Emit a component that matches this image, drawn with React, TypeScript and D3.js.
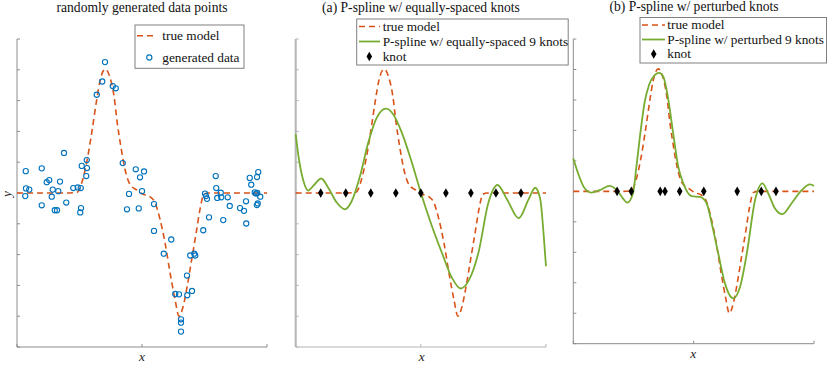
import React from "react";
import * as d3 from "d3";

// ---------- data ----------
const dataX = [0.035, 0.033, 0.036, 0.049, 0.099, 0.099, 0.119, 0.129, 0.139, 0.143, 0.151, 0.160, 0.165, 0.172, 0.188, 0.197, 0.225, 0.243, 0.255, 0.253, 0.256, 0.259, 0.277, 0.280, 0.279, 0.319, 0.341, 0.352, 0.383, 0.395, 0.423, 0.440, 0.448, 0.475, 0.487, 0.492, 0.500, 0.508, 0.548, 0.548, 0.587, 0.617, 0.633, 0.648, 0.656, 0.656, 0.656, 0.680, 0.681, 0.693, 0.700, 0.709, 0.713, 0.745, 0.752, 0.756, 0.760, 0.768, 0.795, 0.797, 0.801, 0.815, 0.817, 0.825, 0.843, 0.851, 0.892, 0.908, 0.916, 0.917, 0.931, 0.937, 0.951, 0.956, 0.960, 0.961, 0.965, 0.959, 0.963, 0.973];
const dataY = [0.71, -0.10, 0.15, 0.11, 0.80, -0.40, 0.35, 0.42, -0.12, 0.11, -0.56, -0.56, 0.06, 0.37, 1.30, -0.31, 0.16, 0.18, 0.16, -0.63, -0.49, 0.88, 0.55, 0.81, 1.07, 3.19, 3.62, 4.25, 3.47, 3.40, 0.97, -0.53, -0.03, 0.77, -0.50, 0.51, 0.06, 0.70, -0.36, -1.23, -1.97, -1.51, -3.28, -3.29, -4.10, -4.21, -4.50, -2.68, -3.32, -2.03, -3.18, -1.97, -2.03, -1.21, -0.02, -0.10, -0.19, -0.79, 0.55, 0.16, -0.16, 0.01, -0.14, -0.88, -0.14, -0.42, -0.49, -0.58, -0.27, -0.99, 0.49, 0.27, 0.02, -0.02, 0.52, 0.00, 0.68, -0.39, -0.34, -0.12];

const trueX = [0, 0.1, 0.2, 0.24, 0.263, 0.281, 0.299, 0.319, 0.332, 0.353, 0.372, 0.388, 0.401, 0.415, 0.432, 0.452, 0.479, 0.505, 0.532, 0.552, 0.572, 0.592, 0.612, 0.632, 0.648, 0.665, 0.681, 0.699, 0.719, 0.732, 0.748, 0.765, 0.85, 1];
const trueY = [0, 0, 0, 0.02, 0.44, 1.09, 1.96, 3.04, 3.64, 4.02, 3.75, 3.15, 2.28, 1.53, 0.77, 0.28, 0.10, -0.04, -0.12, -0.31, -0.85, -1.61, -2.58, -3.45, -4.0, -3.67, -3.02, -2.15, -1.18, -0.53, -0.04, 0, 0, 0];

const fitAX = [0, 0.011, 0.031, 0.050, 0.070, 0.102, 0.130, 0.164, 0.197, 0.224, 0.257, 0.290, 0.324, 0.361, 0.390, 0.424, 0.464, 0.504, 0.544, 0.584, 0.624, 0.659, 0.690, 0.730, 0.770, 0.806, 0.844, 0.891, 0.931, 0.957, 0.977, 0.990, 1.0];
const fitAY = [1.91, 1.20, 0.39, 0.08, 0.23, 0.47, 0.17, -0.31, -0.53, -0.26, 0.55, 1.64, 2.45, 2.74, 2.55, 1.96, 0.99, -0.10, -1.07, -1.94, -2.75, -3.10, -2.86, -1.94, -0.31, 0.26, -0.20, -0.82, -0.20, 0.17, -0.20, -1.29, -2.38];

const fitBX = [0, 0.020, 0.047, 0.075, 0.110, 0.151, 0.186, 0.206, 0.224, 0.248, 0.262, 0.280, 0.297, 0.315, 0.339, 0.356, 0.374, 0.395, 0.415, 0.436, 0.457, 0.492, 0.526, 0.554, 0.575, 0.602, 0.630, 0.664, 0.693, 0.721, 0.755, 0.786, 0.810, 0.838, 0.869, 0.907, 0.949, 0.983, 1.0];
const fitBY = [1.08, 0.59, 0.10, -0.04, 0.04, 0.18, -0.01, -0.23, -0.37, -0.07, 0.80, 2.00, 2.95, 3.50, 3.82, 3.89, 3.76, 3.00, 1.90, 0.81, 0.26, -0.16, -0.18, -0.39, -1.05, -2.03, -3.02, -3.51, -3.13, -2.03, -0.29, 0.26, -0.07, -0.56, -0.75, -0.39, 0.04, 0.23, 0.18];

const knotsA = [0.1, 0.2, 0.3, 0.4, 0.5, 0.6, 0.7, 0.8, 0.9];
const knotsB = [0.182, 0.241, 0.361, 0.381, 0.442, 0.542, 0.681, 0.781, 0.842];

const yTicks = [-5, -4, -3, -2, -1, 0, 1, 2, 3, 4, 5];
const xTicks = [0, 0.5, 1];
const titles = ["randomly generated data points", "(a) P-spline w/ equally-spaced knots", "(b) P-spline w/ perturbed knots"];
const legendTrue = "true model";
const legendData = "generated data";
const legendFitA = "P-spline w/ equally-spaced 9 knots";
const legendFitB = "P-spline w/ perturbed 9 knots";
const legendKnot = "knot";

// ---------- styles ----------
const ORANGE = "#D95319";
const BLUE = "#0072BD";
const GREEN = "#77AC30";
const FONT = "'Liberation Serif', 'Times New Roman', serif";
const FS = 13.3;
const FS_TITLE = 13.6;
const DASH = "6,4";

type Geom = { L: number; R: number; T: number; B: number; axisColor: string; leftW: number };

const geoms: Geom[] = [
  { L: 17, R: 267, T: 39, B: 347, axisColor: "#8c8c8c", leftW: 1 },
  { L: 295.7, R: 546, T: 39, B: 347, axisColor: "#b4b4b4", leftW: 2 },
  { L: 573.3, R: 814, T: 39, B: 343.7, axisColor: "#8c8c8c", leftW: 1 },
];

const diamond = d3.symbol().type(d3.symbolDiamond).size(27)() as string;

function Axes({ g, x, y }: { g: Geom; x: d3.ScaleLinear<number, number>; y: d3.ScaleLinear<number, number> }) {
  return (
    <g>
      <line x1={g.L} x2={g.R} y1={g.B} y2={g.B} stroke={g.axisColor} strokeWidth={1} />
      <line x1={g.L} x2={g.L} y1={g.T} y2={g.B} stroke={g.axisColor} strokeWidth={g.leftW} />
      {yTicks.map((t) => (
        <line key={"y" + t} x1={g.L} x2={g.L + 3} y1={y(t)} y2={y(t)} stroke={g.axisColor} strokeWidth={1} />
      ))}
      {xTicks.map((t) => (
        <line key={"x" + t} x1={x(t)} x2={x(t)} y1={g.B} y2={g.B - 3} stroke={g.axisColor} strokeWidth={1} />
      ))}
    </g>
  );
}

function makeLine(xs: number[], ys: number[], x: d3.ScaleLinear<number, number>, y: d3.ScaleLinear<number, number>) {
  const idx = xs.map((_, i) => i);
  return d3
    .line<number>()
    .x((i) => x(xs[i]))
    .y((i) => y(ys[i]))
    .curve(d3.curveMonotoneX)(idx) as string;
}

const txt = { fontFamily: FONT, fontSize: FS } as const;

export default function App() {
  const scales = geoms.map((g) => ({
    x: d3.scaleLinear().domain([0, 1]).range([g.L, g.R]),
    y: d3.scaleLinear().domain([-5, 5]).range([g.B, g.T]),
  }));
  const titleX = [142, 421, 694];
  const titleY = [11.5, 11.5, 11];

  const s0 = scales[0], s1 = scales[1], s2 = scales[2];

  return (
    <svg width={830} height={365} style={{ position: "absolute", left: 0, top: 0, background: "#fff" }}>
      <rect x={0} y={0} width={830} height={365} fill="#fff" />
      {titles.map((t, i) => (
        <text key={t} x={titleX[i]} y={titleY[i]} style={{ fontFamily: FONT, fontSize: FS_TITLE }} textAnchor="middle" fill="#111">{t}</text>
      ))}

      {/* panel 1 */}
      <Axes g={geoms[0]} x={s0.x} y={s0.y} />
      <path d={makeLine(trueX, trueY, s0.x, s0.y)} fill="none" stroke={ORANGE} strokeWidth={1.6} strokeDasharray={DASH} />
      {dataX.map((v, i) => (
        <circle key={i} cx={s0.x(v)} cy={s0.y(dataY[i])} r={2.6} fill="none" stroke={BLUE} strokeWidth={1.1} />
      ))}
      <text x={142} y={361} style={{ ...txt, fontStyle: "italic" }} textAnchor="middle" fill="#222">x</text>
      <text transform="translate(10.5,194) rotate(-90)" style={{ ...txt, fontStyle: "italic" }} textAnchor="middle" fill="#222">y</text>
      <g>
        <rect x={135} y={25} width={109} height={43.3} fill="#fff" stroke="#808080" strokeWidth={1} />
        <line x1={137} x2={155} y1={35.7} y2={35.7} stroke={ORANGE} strokeWidth={1.6} strokeDasharray={DASH} />
        <text x={162.3} y={39.8} style={txt} fill="#111">{legendTrue}</text>
        <circle cx={149.3} cy={57.5} r={2.6} fill="none" stroke={BLUE} strokeWidth={1.1} />
        <text x={162.3} y={61.5} style={txt} fill="#111">{legendData}</text>
      </g>

      {/* panel 2 */}
      <Axes g={geoms[1]} x={s1.x} y={s1.y} />
      <path d={makeLine(trueX, trueY, s1.x, s1.y)} fill="none" stroke={ORANGE} strokeWidth={1.6} strokeDasharray={DASH} />
      <path d={makeLine(fitAX, fitAY, s1.x, s1.y)} fill="none" stroke={GREEN} strokeWidth={1.8} />
      {knotsA.map((k) => (
        <path key={k} d={diamond} transform={`translate(${s1.x(k)},${s1.y(0)})`} fill="#000" />
      ))}
      <text x={421.7} y={361} style={{ ...txt, fontStyle: "italic" }} textAnchor="middle" fill="#222">x</text>
      <g>
        <rect x={356.7} y={19} width={211.5} height={46} fill="#fff" stroke="#808080" strokeWidth={1} />
        <line x1={359} x2={380} y1={26.5} y2={26.5} stroke={ORANGE} strokeWidth={1.6} strokeDasharray={DASH} />
        <text x={382.7} y={30.5} style={txt} fill="#111">{legendTrue}</text>
        <line x1={359} x2={380} y1={41.5} y2={41.5} stroke={GREEN} strokeWidth={1.8} />
        <text x={382.7} y={45.5} style={txt} fill="#111">{legendFitA}</text>
        <path d={diamond} transform="translate(369.3,56.5)" fill="#000" />
        <text x={382.7} y={60.5} style={txt} fill="#111">{legendKnot}</text>
      </g>

      {/* panel 3 */}
      <Axes g={geoms[2]} x={s2.x} y={s2.y} />
      <path d={makeLine(trueX, trueY, s2.x, s2.y)} fill="none" stroke={ORANGE} strokeWidth={1.6} strokeDasharray={DASH} />
      <path d={makeLine(fitBX, fitBY, s2.x, s2.y)} fill="none" stroke={GREEN} strokeWidth={1.8} />
      {knotsB.map((k) => (
        <path key={k} d={diamond} transform={`translate(${s2.x(k)},${s2.y(0)})`} fill="#000" />
      ))}
      <text x={693.3} y={358} style={{ ...txt, fontStyle: "italic" }} textAnchor="middle" fill="#222">x</text>
      <g>
        <rect x={640} y={17.5} width={186.5} height={45.5} fill="#fff" stroke="#808080" strokeWidth={1} />
        <line x1={642} x2={665} y1={25} y2={25} stroke={ORANGE} strokeWidth={1.6} strokeDasharray={DASH} />
        <text x={667.3} y={29} style={txt} fill="#111">{legendTrue}</text>
        <line x1={642} x2={665} y1={39.5} y2={39.5} stroke={GREEN} strokeWidth={1.8} />
        <text x={667.3} y={43.5} style={txt} fill="#111">{legendFitB}</text>
        <path d={diamond} transform="translate(653.7,54)" fill="#000" />
        <text x={667.3} y={58} style={txt} fill="#111">{legendKnot}</text>
      </g>
    </svg>
  );
}
